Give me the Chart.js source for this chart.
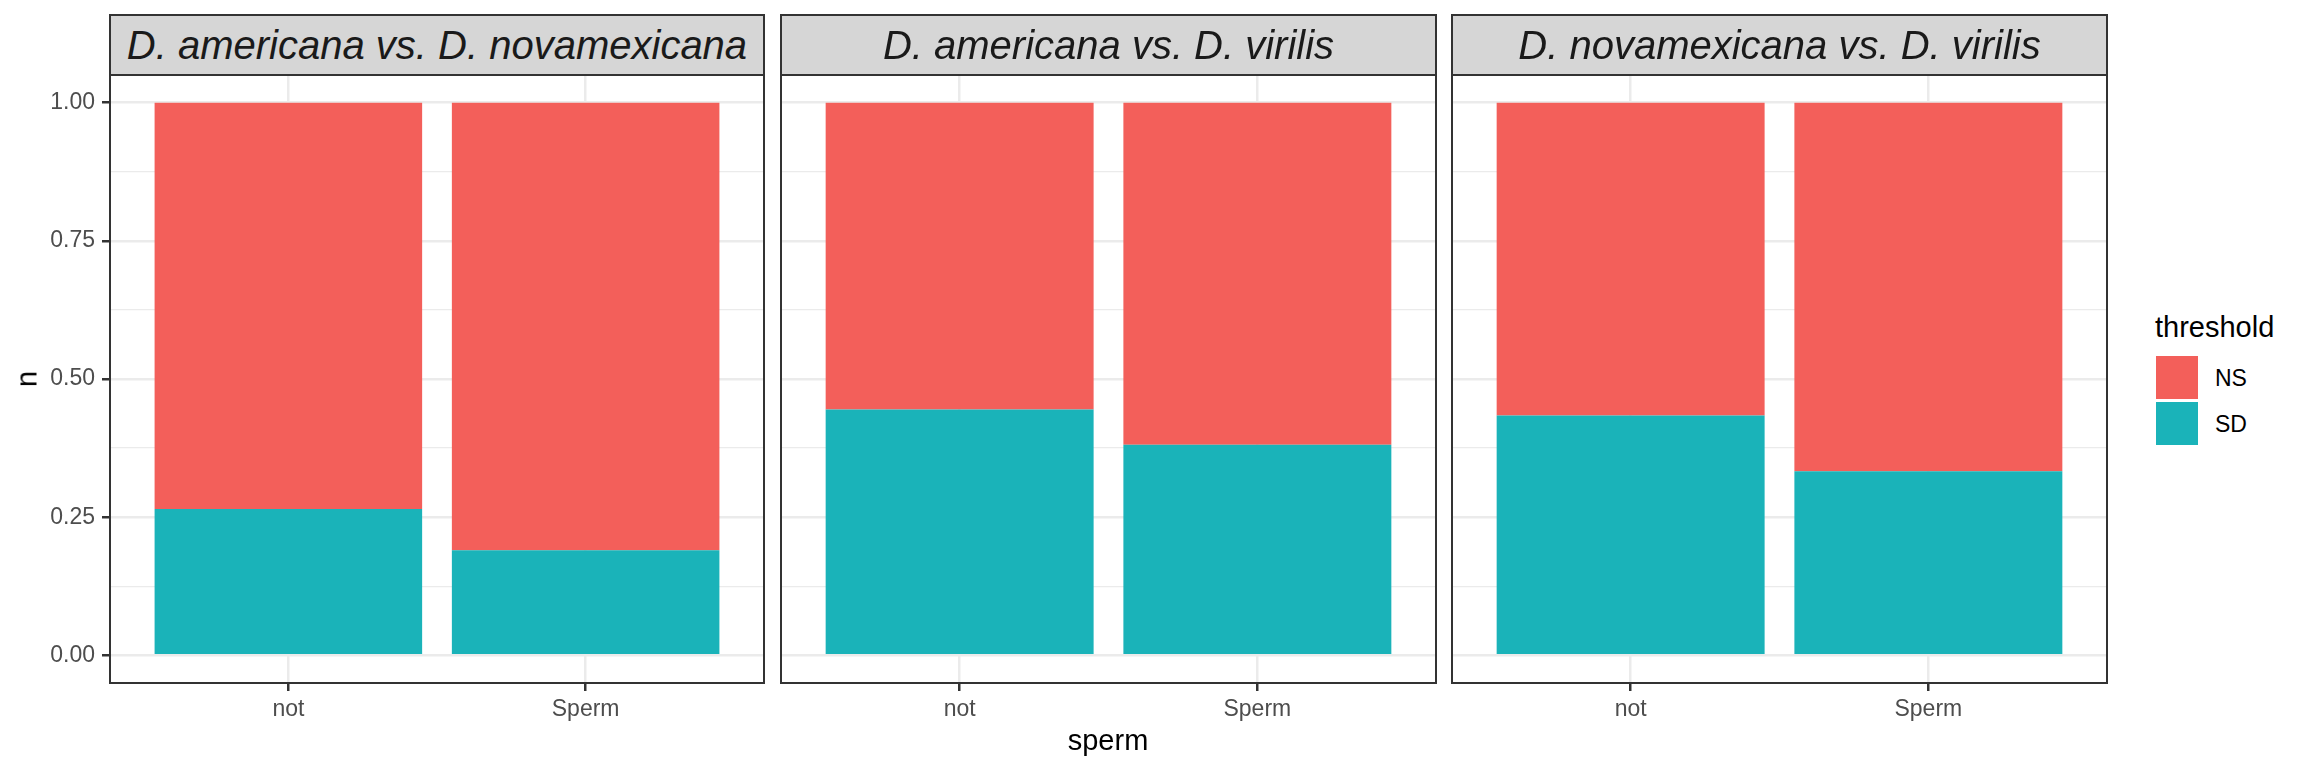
<!DOCTYPE html>
<html>
<head>
<meta charset="utf-8">
<script src="https://cdn.jsdelivr.net/npm/chart.js@4/dist/chart.umd.min.js"></script>
<style>
  html, body { margin:0; padding:0; background:#ffffff; }
  body { width:2304px; height:768px; position:relative; overflow:hidden; font-family:"Liberation Sans", Arial, sans-serif; }
  canvas { position:absolute; }
  .strip { position:absolute; top:14px; height:62px; box-sizing:border-box; border:2px solid #333333; background:#D6D6D6;
           color:#1A1A1A; font-style:italic; font-size:40px; line-height:58px; text-align:center; white-space:nowrap; }
  .txt { position:absolute; white-space:nowrap; line-height:1; }
</style>
</head>
<body>
<canvas id="c0"></canvas>
<canvas id="c1"></canvas>
<canvas id="c2"></canvas>
<div id="strips"></div>
<div class="txt" style="left:0;top:0;font-size:29px;color:#000;transform:translate(27px,379px) translate(-50%,-50%) rotate(-90deg);transform-origin:center;">n</div>
<div class="txt" id="xtitle" style="font-size:29px;color:#000;left:1108px;top:740px;transform:translate(-50%,-50%);">sperm</div>
<div class="txt" style="font-size:29px;color:#000;left:2155px;top:327px;transform:translateY(-50%);">threshold</div>
<div id="legend"></div>
<script>
// ---- data ----
const categories = ['not', 'Sperm'];
const panelTitles = [
  'D. americana vs. D. novamexicana',
  'D. americana vs. D. virilis',
  'D. novamexicana vs. D. virilis'
];
const seriesNames = ['NS', 'SD'];
const nsP1 = [0.735, 0.81];
const sdP1 = [0.265, 0.19];
const nsP2 = [0.555, 0.619];
const sdP2 = [0.445, 0.381];
const nsP3 = [0.566, 0.667];
const sdP3 = [0.434, 0.333];
const yMajorTicks = [0, 0.25, 0.5, 0.75, 1];
const yMinorTicks = [0.125, 0.375, 0.625, 0.875];

// ---- styles ----
const colNS = '#F35F5A';
const colSD = '#1AB3B9';
const panels = [
  { ns: nsP1, sd: sdP1, canvasLeft: 0,    width: 774, padLeft: 0,  yAxis: true },
  { ns: nsP2, sd: sdP2, canvasLeft: 771,  width: 675, padLeft: 10, yAxis: false },
  { ns: nsP3, sd: sdP3, canvasLeft: 1442, width: 675, padLeft: 10, yAxis: false }
];
const panelAreas = [[110, 764], [781, 1436], [1452, 2107]];
const FONT = '"Liberation Sans", Arial, sans-serif';

const borderPlugin = {
  id: 'panelBorder',
  afterDatasetsDraw(chart) {
    const a = chart.chartArea, ctx = chart.ctx;
    ctx.save();
    ctx.strokeStyle = '#333333';
    ctx.lineWidth = 2;
    ctx.strokeRect(a.left, a.top, a.right - a.left, a.bottom - a.top);
    ctx.restore();
  }
};

const allY = yMajorTicks.concat(yMinorTicks).sort((a, b) => a - b);
const isMajor = v => yMajorTicks.some(t => Math.abs(t - v) < 1e-9);

panels.forEach((p, i) => {
  const cv = document.getElementById('c' + i);
  cv.width = p.width; cv.height = 703;
  cv.style.left = p.canvasLeft + 'px'; cv.style.top = '65px';
  cv.style.width = p.width + 'px'; cv.style.height = '703px';

  new Chart(cv, {
    type: 'bar',
    data: {
      datasets: [
        { label: seriesNames[1], data: categories.map((c, k) => ({ x: k + 1, y: p.sd[k] })), backgroundColor: colSD },
        { label: seriesNames[0], data: categories.map((c, k) => ({ x: k + 1, y: p.ns[k] })), backgroundColor: colNS }
      ]
    },
    options: {
      responsive: false,
      animation: false,
      devicePixelRatio: 1,
      layout: { padding: { left: p.padLeft, right: 10, top: 10, bottom: 0 } },
      datasets: { bar: { barPercentage: 0.9, categoryPercentage: 1.0, borderWidth: 0 } },
      plugins: { legend: { display: false }, tooltip: { enabled: false }, title: { display: false } },
      scales: {
        x: {
          type: 'linear', min: 0.4, max: 2.6, stacked: true, offset: false,
          afterBuildTicks: ax => { ax.ticks = categories.map((c, k) => ({ value: k + 1 })); },
          afterFit: ax => { ax.height = 85; ax.paddingLeft = 0; ax.paddingRight = 0; },
          border: { display: false },
          grid: { color: '#EBEBEB', lineWidth: 2.5, offset: false, drawTicks: true, tickLength: 8, tickColor: '#333333', tickWidth: 2.5 },
          ticks: {
            autoSkip: false, maxRotation: 0, padding: 5, color: '#4D4D4D',
            font: { family: FONT, size: 23 },
            callback: v => categories[Math.round(v) - 1]
          }
        },
        y: {
          type: 'linear', min: -0.05, max: 1.05, stacked: true, offset: false,
          afterBuildTicks: ax => { ax.ticks = allY.map(v => ({ value: v })); },
          afterFit: ax => { ax.width = p.yAxis ? 110 : 0; ax.paddingTop = 0; ax.paddingBottom = 0; },
          border: { display: false },
          grid: {
            color: '#EBEBEB',
            lineWidth: ctx => (ctx.tick && isMajor(ctx.tick.value)) ? 2.5 : 1.3,
            drawTicks: p.yAxis, tickLength: 8, tickWidth: 2.5,
            tickColor: ctx => (ctx.tick && isMajor(ctx.tick.value)) ? '#333333' : 'rgba(0,0,0,0)'
          },
          ticks: {
            display: p.yAxis, autoSkip: false, padding: 7, color: '#4D4D4D',
            font: { family: FONT, size: 23 },
            callback: v => isMajor(v) ? v.toFixed(2) : ''
          }
        }
      }
    },
    plugins: [borderPlugin]
  });
});

// strips
const strips = document.getElementById('strips');
panelAreas.forEach((a, i) => {
  const d = document.createElement('div');
  d.className = 'strip';
  d.style.left = (a[0] - 1) + 'px';
  d.style.width = (a[1] - a[0] + 2) + 'px';
  d.textContent = panelTitles[i];
  strips.appendChild(d);
});

// legend
const legend = document.getElementById('legend');
const legendCols = [colNS, colSD];
seriesNames.forEach((name, i) => {
  const top = 356 + i * 46;
  const k = document.createElement('div');
  k.style.cssText = `position:absolute;left:2156px;top:${top}px;width:42px;height:43px;background:${legendCols[i]};`;
  legend.appendChild(k);
  const t = document.createElement('div');
  t.className = 'txt';
  t.style.cssText += `left:2215px;top:${top + 21.5}px;font-size:23px;color:#000;transform:translateY(-50%);`;
  t.textContent = name;
  legend.appendChild(t);
});
</script>
</body>
</html>
